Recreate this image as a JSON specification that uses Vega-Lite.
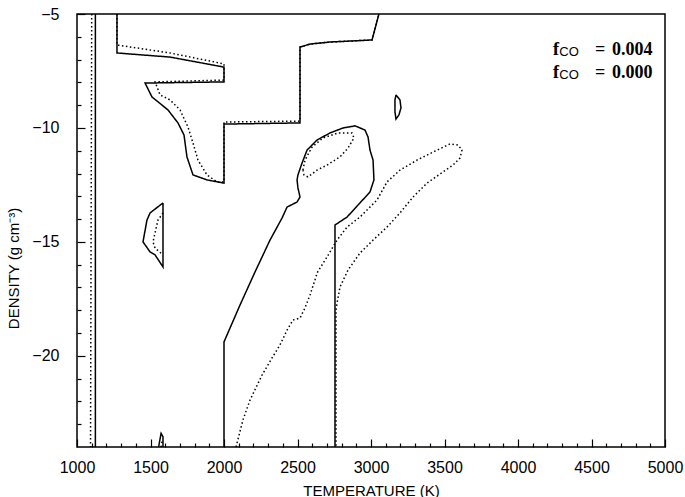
{
  "$schema": "https://vega.github.io/schema/vega-lite/v6.json",
  "width": 588,
  "height": 433,
  "autosize": "none",
  "padding": {"left": 77, "top": 14, "right": 20, "bottom": 50},
  "background": "white",
  "config": {
    "view": {"stroke": "black", "strokeWidth": 1.5},
    "axis": {
      "grid": false, "domain": false, "labelColor": "black", "titleColor": "black",
      "labelFont": "Liberation Sans", "titleFont": "Liberation Sans",
      "labelFontSize": 16, "titleFontSize": 15, "titleFontWeight": "normal",
      "labelFlush": false, "labelOverlap": false
    }
  },
  "datasets": {
    "curves": [
      {"c": "s1", "f": "0.004", "o": 1, "T": 1125, "D": -5},
      {"c": "s1", "f": "0.004", "o": 2, "T": 1125, "D": -24},
      {"c": "d1", "f": "0.000", "o": 1, "T": 1100, "D": -5},
      {"c": "d1", "f": "0.000", "o": 2, "T": 1092, "D": -24},

      {"c": "s2", "f": "0.004", "o": 1, "T": 1272, "D": -5},
      {"c": "s2", "f": "0.004", "o": 2, "T": 1272, "D": -6.71},
      {"c": "s2", "f": "0.004", "o": 3, "T": 1633, "D": -6.89},
      {"c": "s2", "f": "0.004", "o": 4, "T": 2000, "D": -7.33},
      {"c": "s2", "f": "0.004", "o": 5, "T": 2000, "D": -7.98},
      {"c": "s2", "f": "0.004", "o": 6, "T": 1463, "D": -8.03},
      {"c": "s2", "f": "0.004", "o": 7, "T": 1510, "D": -8.64},
      {"c": "s2", "f": "0.004", "o": 8, "T": 1619, "D": -9.21},
      {"c": "s2", "f": "0.004", "o": 9, "T": 1687, "D": -9.78},
      {"c": "s2", "f": "0.004", "o": 10, "T": 1728, "D": -10.31},
      {"c": "s2", "f": "0.004", "o": 11, "T": 1748, "D": -11.27},
      {"c": "s2", "f": "0.004", "o": 12, "T": 1789, "D": -12.06},
      {"c": "s2", "f": "0.004", "o": 13, "T": 1884, "D": -12.28},
      {"c": "s2", "f": "0.004", "o": 14, "T": 2000, "D": -12.42},
      {"c": "s2", "f": "0.004", "o": 15, "T": 2000, "D": -9.83},
      {"c": "s2", "f": "0.004", "o": 16, "T": 2517, "D": -9.78},
      {"c": "s2", "f": "0.004", "o": 17, "T": 2517, "D": -6.45},
      {"c": "s2", "f": "0.004", "o": 18, "T": 2585, "D": -6.32},
      {"c": "s2", "f": "0.004", "o": 19, "T": 2721, "D": -6.23},
      {"c": "s2", "f": "0.004", "o": 20, "T": 3007, "D": -6.14},
      {"c": "s2", "f": "0.004", "o": 21, "T": 3054, "D": -5},

      {"c": "d2", "f": "0.000", "o": 1, "T": 1272, "D": -5},
      {"c": "d2", "f": "0.000", "o": 2, "T": 1272, "D": -6.36},
      {"c": "d2", "f": "0.000", "o": 3, "T": 1633, "D": -6.71},
      {"c": "d2", "f": "0.000", "o": 4, "T": 2000, "D": -7.19},
      {"c": "d2", "f": "0.000", "o": 5, "T": 2000, "D": -7.9},
      {"c": "d2", "f": "0.000", "o": 6, "T": 1531, "D": -7.98},
      {"c": "d2", "f": "0.000", "o": 7, "T": 1565, "D": -8.55},
      {"c": "d2", "f": "0.000", "o": 8, "T": 1633, "D": -8.77},
      {"c": "d2", "f": "0.000", "o": 9, "T": 1701, "D": -9.21},
      {"c": "d2", "f": "0.000", "o": 10, "T": 1755, "D": -9.96},
      {"c": "d2", "f": "0.000", "o": 11, "T": 1789, "D": -10.66},
      {"c": "d2", "f": "0.000", "o": 12, "T": 1823, "D": -11.41},
      {"c": "d2", "f": "0.000", "o": 13, "T": 1884, "D": -12.06},
      {"c": "d2", "f": "0.000", "o": 14, "T": 1952, "D": -12.37},
      {"c": "d2", "f": "0.000", "o": 15, "T": 2000, "D": -12.37},
      {"c": "d2", "f": "0.000", "o": 16, "T": 2000, "D": -9.74},
      {"c": "d2", "f": "0.000", "o": 17, "T": 2517, "D": -9.7},
      {"c": "d2", "f": "0.000", "o": 18, "T": 2517, "D": -6.45},
      {"c": "d2", "f": "0.000", "o": 19, "T": 2585, "D": -6.32},
      {"c": "d2", "f": "0.000", "o": 20, "T": 2721, "D": -6.23},
      {"c": "d2", "f": "0.000", "o": 21, "T": 3007, "D": -6.14},
      {"c": "d2", "f": "0.000", "o": 22, "T": 3054, "D": -5},

      {"c": "s3", "f": "0.004", "o": 1, "T": 3170, "D": -8.55},
      {"c": "s3", "f": "0.004", "o": 2, "T": 3197, "D": -8.77},
      {"c": "s3", "f": "0.004", "o": 3, "T": 3204, "D": -9.12},
      {"c": "s3", "f": "0.004", "o": 4, "T": 3190, "D": -9.43},
      {"c": "s3", "f": "0.004", "o": 5, "T": 3170, "D": -9.61},
      {"c": "s3", "f": "0.004", "o": 6, "T": 3163, "D": -9.3},
      {"c": "s3", "f": "0.004", "o": 7, "T": 3163, "D": -8.77},
      {"c": "s3", "f": "0.004", "o": 8, "T": 3170, "D": -8.55},

      {"c": "s4", "f": "0.004", "o": 1, "T": 2000, "D": -24},
      {"c": "s4", "f": "0.004", "o": 2, "T": 2000, "D": -19.39},
      {"c": "s4", "f": "0.004", "o": 3, "T": 2109, "D": -17.77},
      {"c": "s4", "f": "0.004", "o": 4, "T": 2211, "D": -16.32},
      {"c": "s4", "f": "0.004", "o": 5, "T": 2313, "D": -14.92},
      {"c": "s4", "f": "0.004", "o": 6, "T": 2395, "D": -13.95},
      {"c": "s4", "f": "0.004", "o": 7, "T": 2429, "D": -13.47},
      {"c": "s4", "f": "0.004", "o": 8, "T": 2497, "D": -13.25},
      {"c": "s4", "f": "0.004", "o": 9, "T": 2517, "D": -13.03},
      {"c": "s4", "f": "0.004", "o": 10, "T": 2503, "D": -12.63},
      {"c": "s4", "f": "0.004", "o": 11, "T": 2497, "D": -12.28},
      {"c": "s4", "f": "0.004", "o": 12, "T": 2503, "D": -12.06},
      {"c": "s4", "f": "0.004", "o": 13, "T": 2531, "D": -11.54},
      {"c": "s4", "f": "0.004", "o": 14, "T": 2565, "D": -10.97},
      {"c": "s4", "f": "0.004", "o": 15, "T": 2633, "D": -10.53},
      {"c": "s4", "f": "0.004", "o": 16, "T": 2721, "D": -10.22},
      {"c": "s4", "f": "0.004", "o": 17, "T": 2810, "D": -10.0},
      {"c": "s4", "f": "0.004", "o": 18, "T": 2891, "D": -9.91},
      {"c": "s4", "f": "0.004", "o": 19, "T": 2959, "D": -10.09},
      {"c": "s4", "f": "0.004", "o": 20, "T": 2980, "D": -10.4},
      {"c": "s4", "f": "0.004", "o": 21, "T": 2993, "D": -10.97},
      {"c": "s4", "f": "0.004", "o": 22, "T": 3014, "D": -11.41},
      {"c": "s4", "f": "0.004", "o": 23, "T": 3020, "D": -12.28},
      {"c": "s4", "f": "0.004", "o": 24, "T": 2993, "D": -12.81},
      {"c": "s4", "f": "0.004", "o": 25, "T": 2925, "D": -13.29},
      {"c": "s4", "f": "0.004", "o": 26, "T": 2837, "D": -13.91},
      {"c": "s4", "f": "0.004", "o": 27, "T": 2755, "D": -14.26},
      {"c": "s4", "f": "0.004", "o": 28, "T": 2755, "D": -24},

      {"c": "d4", "f": "0.000", "o": 1, "T": 2537, "D": -11.85},
      {"c": "d4", "f": "0.000", "o": 2, "T": 2551, "D": -11.41},
      {"c": "d4", "f": "0.000", "o": 3, "T": 2599, "D": -10.84},
      {"c": "d4", "f": "0.000", "o": 4, "T": 2673, "D": -10.44},
      {"c": "d4", "f": "0.000", "o": 5, "T": 2776, "D": -10.22},
      {"c": "d4", "f": "0.000", "o": 6, "T": 2871, "D": -10.22},
      {"c": "d4", "f": "0.000", "o": 7, "T": 2884, "D": -10.44},
      {"c": "d4", "f": "0.000", "o": 8, "T": 2844, "D": -10.88},
      {"c": "d4", "f": "0.000", "o": 9, "T": 2789, "D": -11.27},
      {"c": "d4", "f": "0.000", "o": 10, "T": 2701, "D": -11.63},
      {"c": "d4", "f": "0.000", "o": 11, "T": 2633, "D": -11.85},
      {"c": "d4", "f": "0.000", "o": 12, "T": 2571, "D": -12.15},
      {"c": "d4", "f": "0.000", "o": 13, "T": 2544, "D": -12.06},
      {"c": "d4", "f": "0.000", "o": 14, "T": 2537, "D": -11.85},

      {"c": "d5", "f": "0.000", "o": 1, "T": 2082, "D": -24},
      {"c": "d5", "f": "0.000", "o": 2, "T": 2129, "D": -22.81},
      {"c": "d5", "f": "0.000", "o": 3, "T": 2177, "D": -21.94},
      {"c": "d5", "f": "0.000", "o": 4, "T": 2259, "D": -20.84},
      {"c": "d5", "f": "0.000", "o": 5, "T": 2327, "D": -20.09},
      {"c": "d5", "f": "0.000", "o": 6, "T": 2381, "D": -19.52},
      {"c": "d5", "f": "0.000", "o": 7, "T": 2429, "D": -18.87},
      {"c": "d5", "f": "0.000", "o": 8, "T": 2469, "D": -18.43},
      {"c": "d5", "f": "0.000", "o": 9, "T": 2517, "D": -18.34},
      {"c": "d5", "f": "0.000", "o": 10, "T": 2551, "D": -17.9},
      {"c": "d5", "f": "0.000", "o": 11, "T": 2585, "D": -17.33},
      {"c": "d5", "f": "0.000", "o": 12, "T": 2619, "D": -16.67},
      {"c": "d5", "f": "0.000", "o": 13, "T": 2633, "D": -16.36},
      {"c": "d5", "f": "0.000", "o": 14, "T": 2701, "D": -15.66},
      {"c": "d5", "f": "0.000", "o": 15, "T": 2769, "D": -14.92},
      {"c": "d5", "f": "0.000", "o": 16, "T": 2837, "D": -14.35},
      {"c": "d5", "f": "0.000", "o": 17, "T": 2925, "D": -13.91},
      {"c": "d5", "f": "0.000", "o": 18, "T": 3041, "D": -13.16},
      {"c": "d5", "f": "0.000", "o": 19, "T": 3109, "D": -12.37},
      {"c": "d5", "f": "0.000", "o": 20, "T": 3197, "D": -11.85},
      {"c": "d5", "f": "0.000", "o": 21, "T": 3313, "D": -11.41},
      {"c": "d5", "f": "0.000", "o": 22, "T": 3422, "D": -11.06},
      {"c": "d5", "f": "0.000", "o": 23, "T": 3537, "D": -10.7},
      {"c": "d5", "f": "0.000", "o": 24, "T": 3592, "D": -10.75},
      {"c": "d5", "f": "0.000", "o": 25, "T": 3619, "D": -10.97},
      {"c": "d5", "f": "0.000", "o": 26, "T": 3605, "D": -11.32},
      {"c": "d5", "f": "0.000", "o": 27, "T": 3558, "D": -11.63},
      {"c": "d5", "f": "0.000", "o": 28, "T": 3490, "D": -11.93},
      {"c": "d5", "f": "0.000", "o": 29, "T": 3381, "D": -12.42},
      {"c": "d5", "f": "0.000", "o": 30, "T": 3286, "D": -13.03},
      {"c": "d5", "f": "0.000", "o": 31, "T": 3197, "D": -13.73},
      {"c": "d5", "f": "0.000", "o": 32, "T": 3109, "D": -14.35},
      {"c": "d5", "f": "0.000", "o": 33, "T": 3014, "D": -14.92},
      {"c": "d5", "f": "0.000", "o": 34, "T": 2925, "D": -15.49},
      {"c": "d5", "f": "0.000", "o": 35, "T": 2844, "D": -16.23},
      {"c": "d5", "f": "0.000", "o": 36, "T": 2789, "D": -16.98},
      {"c": "d5", "f": "0.000", "o": 37, "T": 2769, "D": -17.68},
      {"c": "d5", "f": "0.000", "o": 38, "T": 2762, "D": -17.99},
      {"c": "d5", "f": "0.000", "o": 39, "T": 2762, "D": -24},

      {"c": "s6", "f": "0.004", "o": 1, "T": 1585, "D": -13.29},
      {"c": "s6", "f": "0.004", "o": 2, "T": 1497, "D": -13.73},
      {"c": "s6", "f": "0.004", "o": 3, "T": 1476, "D": -14.04},
      {"c": "s6", "f": "0.004", "o": 4, "T": 1449, "D": -15.0},
      {"c": "s6", "f": "0.004", "o": 5, "T": 1497, "D": -15.44},
      {"c": "s6", "f": "0.004", "o": 6, "T": 1531, "D": -15.57},
      {"c": "s6", "f": "0.004", "o": 7, "T": 1585, "D": -16.1},
      {"c": "s6", "f": "0.004", "o": 8, "T": 1585, "D": -13.29},

      {"c": "d6", "f": "0.000", "o": 1, "T": 1585, "D": -13.73},
      {"c": "d6", "f": "0.000", "o": 2, "T": 1551, "D": -14.04},
      {"c": "d6", "f": "0.000", "o": 3, "T": 1517, "D": -15.0},
      {"c": "d6", "f": "0.000", "o": 4, "T": 1531, "D": -15.27},
      {"c": "d6", "f": "0.000", "o": 5, "T": 1585, "D": -15.57},

      {"c": "s7", "f": "0.004", "o": 1, "T": 1555, "D": -24},
      {"c": "s7", "f": "0.004", "o": 2, "T": 1572, "D": -23.4},
      {"c": "s7", "f": "0.004", "o": 3, "T": 1585, "D": -23.55},
      {"c": "s7", "f": "0.004", "o": 4, "T": 1585, "D": -24},
      {"c": "d7", "f": "0.000", "o": 1, "T": 1572, "D": -24},
      {"c": "d7", "f": "0.000", "o": 2, "T": 1580, "D": -23.7}
    ],
    "leg": [
      {"T": 4238, "D": -6.8, "txt": "f"},
      {"T": 4524, "D": -6.8, "txt": "="},
      {"T": 4639, "D": -6.8, "txt": "0.004"},
      {"T": 4238, "D": -7.81, "txt": "f"},
      {"T": 4524, "D": -7.81, "txt": "="},
      {"T": 4639, "D": -7.81, "txt": "0.000"}
    ],
    "legsub": [
      {"T": 4281, "D": -6.86, "txt": "CO"},
      {"T": 4281, "D": -7.87, "txt": "CO"}
    ]
  },
  "encoding": {
    "x": {"field": "T", "type": "quantitative", "scale": {"domain": [1000, 5000], "nice": false, "zero": false},
          "axis": {"values": [1000, 1100, 1200, 1300, 1400, 1500, 1600, 1700, 1800, 1900, 2000, 2100, 2200, 2300, 2400, 2500, 2600, 2700, 2800, 2900, 3000, 3100, 3200, 3300, 3400, 3500, 3600, 3700, 3800, 3900, 4000, 4100, 4200, 4300, 4400, 4500, 4600, 4700, 4800, 4900, 5000],
                   "format": "d", "labelExpr": "datum.value % 500 === 0 ? datum.label : ''",
                   "ticks": true, "tickColor": "black", "tickWidth": 1.2,
                   "tickSize": {"condition": {"test": "datum.value % 500 === 0", "value": -8}, "value": -4},
                   "labelPadding": 20, "title": "TEMPERATURE (K)", "titlePadding": 4}},
    "y": {"field": "D", "type": "quantitative", "scale": {"domain": [-24, -5], "nice": false, "zero": false},
          "axis": {"values": [-23, -22, -21, -20, -19, -18, -17, -16, -15, -14, -13, -12, -11, -10, -9, -8, -7, -6, -5],
                   "format": "d", "labelExpr": "datum.value % 5 === 0 ? datum.label : ''",
                   "ticks": true, "tickColor": "black", "tickWidth": 1.2,
                   "tickSize": {"condition": {"test": "datum.value % 5 === 0", "value": -8}, "value": -4},
                   "labelPadding": 26, "title": "DENSITY (g cm⁻³)", "titlePadding": 10, "titleY": 254}}
  },
  "layer": [
    {
      "data": {"name": "curves"},
      "mark": {"type": "line", "color": "black", "strokeWidth": 1.5, "strokeCap": "butt"},
      "encoding": {
        "detail": {"field": "c"},
        "order": {"field": "o", "type": "quantitative"},
        "strokeDash": {"field": "f", "type": "nominal", "scale": {"domain": ["0.004", "0.000"], "range": [[1, 0], [1.5, 2.5]]}, "legend": null}
      }
    },
    {
      "data": {"name": "leg"},
      "mark": {"type": "text", "align": "left", "baseline": "alphabetic", "font": "Liberation Serif", "fontSize": 18, "fontWeight": "bold", "color": "black"},
      "encoding": {"text": {"field": "txt"}}
    },
    {
      "data": {"name": "legsub"},
      "mark": {"type": "text", "align": "left", "baseline": "alphabetic", "font": "Liberation Sans", "fontSize": 13, "color": "black"},
      "encoding": {"text": {"field": "txt"}}
    }
  ]
}
